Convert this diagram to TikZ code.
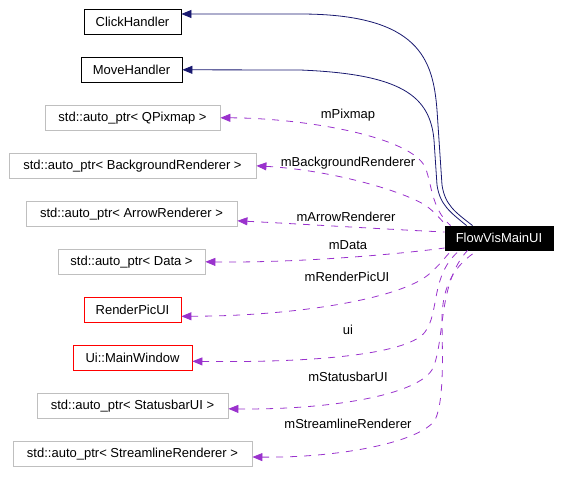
\documentclass[tikz,border=0pt]{standalone}
\usepackage{fontspec}
\setmainfont{Liberation Sans}
\usetikzlibrary{arrows.meta}
\definecolor{inh}{HTML}{191970}
\definecolor{use}{HTML}{9A32CD}
\definecolor{grayb}{HTML}{BFBFBF}
\begin{document}
\begin{tikzpicture}[x=1pt,y=-1pt,
  cls/.style={draw=black, line width=0.8pt, minimum height=25pt, inner sep=0pt, font=\fontsize{13}{15}\selectfont},
  tmpl/.style={cls, draw=grayb},
  redb/.style={cls, draw=red},
  mainb/.style={cls, fill=black, text=white, minimum height=24pt},
  inhline/.style={draw=inh, line width=0.8pt, {Triangle[length=10pt,width=8pt]}-},
  useline/.style={draw=use, line width=0.8pt, dash pattern=on 7pt off 7pt, {Triangle[length=10pt,width=8pt]}-},
  lbl/.style={font=\fontsize{13}{15}\selectfont, inner sep=1pt}]
\useasboundingbox (0,0) rectangle (562,484);
% nodes
\node[cls, minimum width=97pt] (ch) at (132.5,21.8) {ClickHandler};
\node[cls, minimum width=101pt] (mh) at (131.5,69.8) {MoveHandler};
\node[tmpl, minimum width=175pt] (qp) at (132.5,117.8) {std::auto\_ptr< QPixmap >};
\node[tmpl, minimum width=247pt] (bg) at (132.5,165.8) {std::auto\_ptr< BackgroundRenderer >};
\node[tmpl, minimum width=211pt] (ar) at (131.5,213.8) {std::auto\_ptr< ArrowRenderer >};
\node[tmpl, minimum width=147pt] (da) at (131.5,261.8) {std::auto\_ptr< Data >};
\node[redb, minimum width=97pt] (rp) at (132.5,309.8) {RenderPicUI};
\node[redb, minimum width=119pt] (mw) at (132.5,357.8) {Ui::MainWindow};
\node[tmpl, minimum width=191pt] (sb) at (132.5,405.8) {std::auto\_ptr< StatusbarUI >};
\node[tmpl, minimum width=239pt] (sl) at (132.5,454) {std::auto\_ptr< StreamlineRenderer >};
\node[mainb, minimum width=108pt] (m) at (499,238) {FlowVisMainUI};
% inheritance
\draw[inhline] ([yshift=7.8pt]ch.east) -- (300,14) .. controls (420,14) and (433,60) .. (437,110) -- (442,185) .. controls (445,205) and (455,212) .. ([xshift=28pt]m.north west);
\draw[inhline] (mh.east) -- (300,70) .. controls (400,74) and (430,95) .. (434,140) -- (437,185) .. controls (440,205) and (450,212) .. ([xshift=22pt]m.north west);
% usage
\draw[useline] (qp.east) .. controls (300,118) and (405,135) .. (424,165) .. controls (432,180) and (430,208) .. ([xshift=6pt]m.north west);
\draw[useline] (bg.east) .. controls (330,170) and (400,190) .. (425,205) .. controls (435,212) and (441,220) .. ([xshift=2pt]m.north west);
\draw[useline] ([yshift=-7pt]ar.east) .. controls (300,224) and (400,230) .. ([yshift=6pt]m.west);
\draw[useline] (da.east) .. controls (300,263) and (400,254) .. ([yshift=-10pt]m.west);
\draw[useline] ([yshift=-6.5pt]rp.east) .. controls (300,316) and (400,298) .. (428,275) .. controls (440,265) and (446,256) .. ([xshift=7pt]m.south west);
\draw[useline] ([yshift=-3.5pt]mw.east) .. controls (330,363) and (410,352) .. (425,332) .. controls (440,312) and (430,275) .. ([xshift=15pt]m.south west);
\draw[useline] ([yshift=-3pt]sb.east) .. controls (330,410) and (420,395) .. (433,368) .. controls (445,340) and (438,282) .. ([xshift=23pt]m.south west);
\draw[useline] ([yshift=-3pt]sl.east) .. controls (340,458) and (420,442) .. (435,420) .. controls (445,400) and (442,345) .. (442,320) .. controls (442,285) and (455,265) .. ([xshift=33pt]m.south west);
% labels
\node[lbl] (l1) at (348,115) {mPixmap};
\node[lbl] (l2) at (348,163) {mBackgroundRenderer};
\node[lbl] (l3) at (346,217) {mArrowRenderer};
\node[lbl] (l4) at (348,245) {mData};
\node[lbl] (l5) at (347,277) {mRenderPicUI};
\node[lbl] (l6) at (348,330) {ui};
\node[lbl] (l7) at (348,377) {mStatusbarUI};
\node[lbl] (l8) at (348,424) {mStreamlineRenderer};
\end{tikzpicture}
\end{document}
